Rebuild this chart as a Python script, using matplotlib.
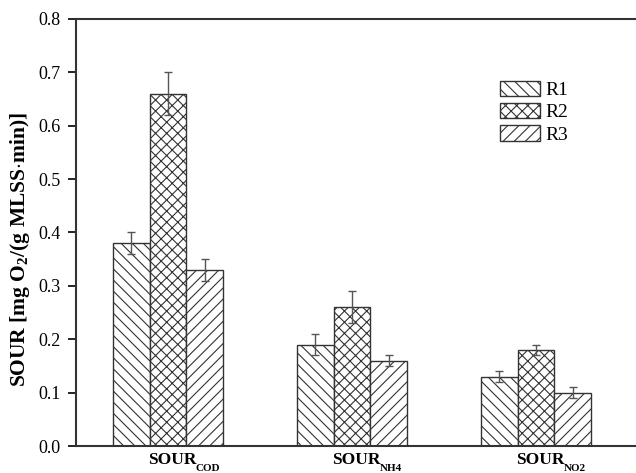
import matplotlib
matplotlib.use("Agg")
import matplotlib.pyplot as plt
import matplotlib.transforms as mtransforms
import numpy as np

plt.rcParams['font.family'] = ['Liberation Serif', 'DejaVu Serif']
plt.rcParams['mathtext.fontset'] = 'custom'
plt.rcParams['mathtext.rm'] = 'Liberation Serif'
plt.rcParams['mathtext.bf'] = 'Liberation Serif:bold'
plt.rcParams['mathtext.it'] = 'Liberation Serif:italic'
plt.rcParams['hatch.linewidth'] = 0.8
plt.rcParams['hatch.color'] = '#333333'

category_main = ['SOUR', 'SOUR', 'SOUR']
category_sub = ['COD', 'NH4', 'NO2']
series_names = ['R1', 'R2', 'R3']
r1_values = [0.38, 0.19, 0.13]
r2_values = [0.66, 0.26, 0.18]
r3_values = [0.33, 0.16, 0.10]
r1_errors = [0.02, 0.02, 0.01]
r2_errors = [0.04, 0.03, 0.01]
r3_errors = [0.02, 0.01, 0.01]
yticks = [0.0, 0.1, 0.2, 0.3, 0.4, 0.5, 0.6, 0.7, 0.8]

fig = plt.figure(figsize=(6.36, 4.73), dpi=100)
left = 76 / 636
bottom = 27 / 473
top = 454 / 473
right = 640 / 636
ax = fig.add_axes([left, bottom, right - left, top - bottom])

x = np.arange(1, len(category_main) + 1)
width = 0.2
hatches = ['\\\\\\', 'xxx', '///']
values = [r1_values, r2_values, r3_values]
errors = [r1_errors, r2_errors, r3_errors]
for i, (name, vals, errs, h) in enumerate(zip(series_names, values, errors, hatches)):
    ax.bar(x + (i - 1) * width, vals, width, yerr=errs, label=name,
           facecolor='white', edgecolor='#333333', hatch=h, linewidth=1.0,
           error_kw=dict(ecolor='#555555', elinewidth=1.0, capsize=2.8, capthick=1.0))

ax.set_xlim(0.5, 0.5 + (640 - 76) / 184)
ax.set_ylim(0, 0.8)
ax.set_yticks(yticks)
ax.set_yticklabels([f'{t:.1f}' for t in yticks], fontsize=13)
ax.set_xticks(x)
ax.set_xticklabels([])
ax.tick_params(axis='x', length=0)
ax.tick_params(axis='y', direction='out', length=6, width=1.2, pad=5)

# Category labels: main word centred on the group, subscript hanging after it
base = mtransforms.blended_transform_factory(ax.transData, ax.transAxes)
for xi, main, sub in zip(x, category_main, category_sub):
    t_main = mtransforms.offset_copy(base, fig=fig, x=4, y=-18, units='dots')
    ax.text(xi, 0, main, transform=t_main, ha='center', va='baseline',
            fontsize=12.5, fontweight='bold', clip_on=False)
    t_sub = mtransforms.offset_copy(base, fig=fig, x=28, y=-25, units='dots')
    ax.text(xi, 0, sub, transform=t_sub, ha='left', va='baseline',
            fontsize=8, fontweight='bold', clip_on=False)

for side in ['left', 'bottom', 'top']:
    ax.spines[side].set_linewidth(1.5)
    ax.spines[side].set_color('#333333')
ax.spines['right'].set_visible(False)

ax.set_ylabel(r'SOUR [mg O$_\mathbf{2}$/(g MLSS$\cdot$min)]', fontsize=15.5,
              fontweight='bold')
ax.yaxis.set_label_coords(-0.078, 0.46)

leg = ax.legend(loc='upper left', bbox_to_anchor=(0.738, 0.874), frameon=False,
                fontsize=14, handlelength=2.06, handleheight=0.85,
                handletextpad=0.25, labelspacing=0.2, borderaxespad=0)

fig.savefig('out.png', dpi=100)
